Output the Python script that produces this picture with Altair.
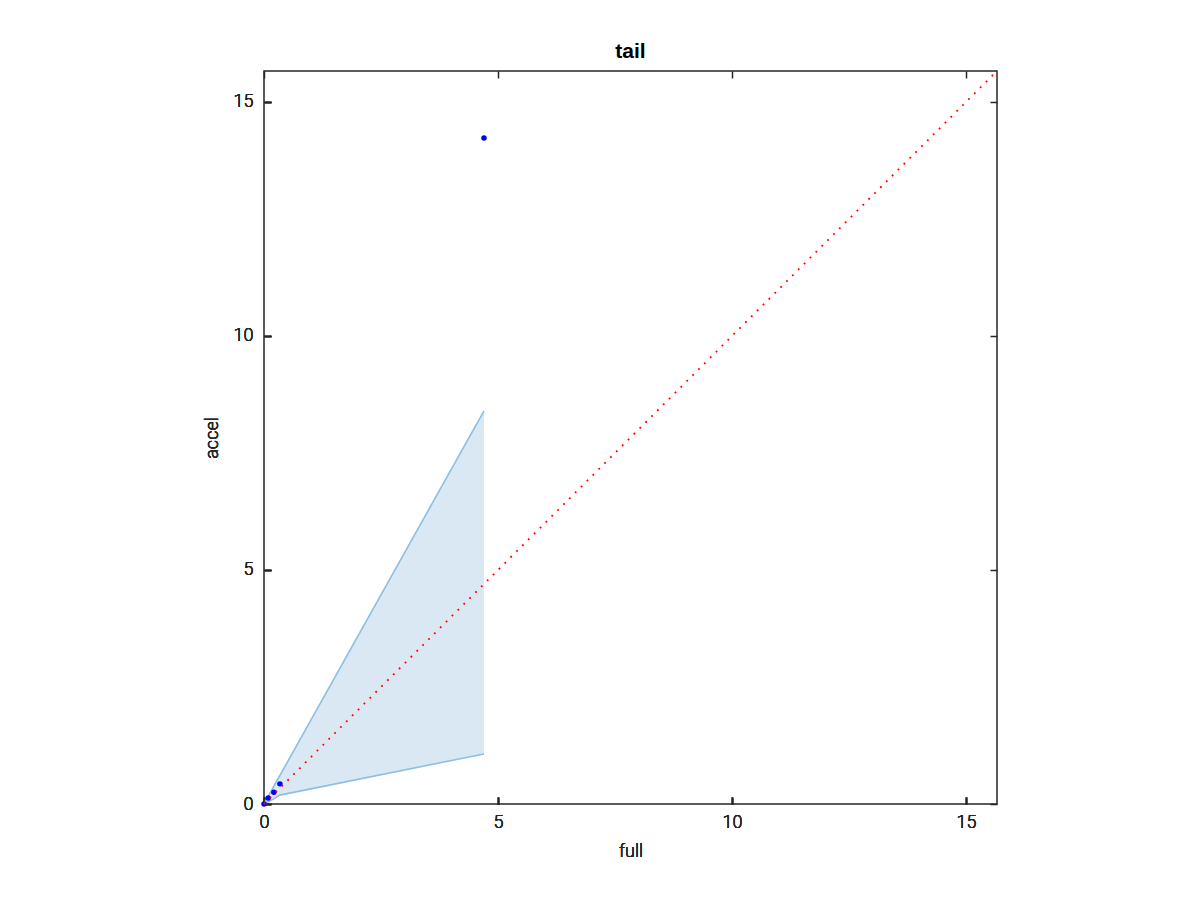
import altair as alt
import pandas as pd

# ---- data ----
pt_x = [0.0, 0.09, 0.21, 0.34, 4.70]
pt_y = [0.0, 0.13, 0.25, 0.43, 14.23]
band_x = [0.0, 0.09, 0.21, 0.34, 4.70]
band_lo = [0.0, 0.05, 0.11, 0.19, 1.07]
band_hi = [0.0, 0.16, 0.38, 0.61, 8.40]
ref_x = [0.0, 15.66]
ref_y = [0.0, 15.66]
tick_vals = [0, 5, 10, 15]
dom = [0, 15.66]

FONT = "Roboto"
TFONT = "Arial"
sc = alt.Scale(domain=dom, nice=False, zero=False)

common = dict(labelFont=FONT, titleFont=FONT, labelFontSize=18, titleFontSize=18,
              labelFontWeight=300, titleFontWeight=300,
              labelColor="#262626", titleColor="#262626",
              tickColor="#262626", tickWidth=1.5)

ax_bottom = alt.Axis(values=tick_vals, orient="bottom", offset=-7, tickSize=7, domain=False,
                     grid=False, labelPadding=9, labelFlush=False, title="full",
                     titlePadding=11, format="d", **common)
ax_left = alt.Axis(values=tick_vals, orient="left", offset=-7, tickSize=7, domain=False,
                   grid=False, labelPadding=11, labelFlush=False, title="accel",
                   titlePadding=12, format="d", **common)
ax_top = alt.Axis(values=tick_vals, orient="top", offset=-7, tickSize=7, domain=False,
                  grid=False, labels=False, title=None, tickColor="#262626", tickWidth=1.5)
ax_right = alt.Axis(values=tick_vals, orient="right", offset=-7, tickSize=7, domain=False,
                    grid=False, labels=False, title=None, tickColor="#262626", tickWidth=1.5)


def X(f, ax=ax_bottom):
    return alt.X(f"{f}:Q", scale=sc, axis=ax)


def Y(f, ax=ax_left):
    return alt.Y(f"{f}:Q", scale=sc, axis=ax)


band_df = pd.DataFrame({"x": band_x, "lo": band_lo, "hi": band_hi})
pt_df = pd.DataFrame({"x": pt_x, "y": pt_y})
ref_df = pd.DataFrame({"x": ref_x, "y": ref_y})

area = alt.Chart(band_df).mark_area(color="#dae8f4", opacity=1).encode(
    x=X("x"), y=Y("hi"), y2="lo:Q")
hi_line = alt.Chart(band_df).mark_line(color="#8cbfe3", strokeWidth=1.6).encode(
    x=X("x"), y=Y("hi"))
lo_line = alt.Chart(band_df).mark_line(color="#8cbfe3", strokeWidth=1.6).encode(
    x=X("x"), y=Y("lo"))
points = alt.Chart(pt_df).mark_circle(color="#0000ff", size=30, opacity=1).encode(
    x=X("x"), y=Y("y"))
ref = alt.Chart(ref_df).mark_line(color="#ff0000", strokeWidth=1.8, strokeDash=[1.8, 6.5]).encode(
    x=X("x"), y=Y("y"))
frame_axes = alt.Chart(ref_df).mark_point(opacity=0).encode(
    x=X("x", ax_top), y=Y("y", ax_right))

chart = alt.layer(area, hi_line, lo_line, points, ref, frame_axes).properties(
    width=733, height=733,
    autosize=alt.AutoSizeParams(type="none"),
    padding={"left": 256, "top": 63, "right": 30, "bottom": 80},
    background="white",
    title=alt.TitleParams("tail", fontSize=21, fontWeight="bold", font=TFONT,
                          color="#000000", anchor="middle", offset=5),
).configure_view(
    stroke="#262626", strokeWidth=1.5
)

chart.save("out.html", embed_options={"renderer": "svg", "actions": False})
